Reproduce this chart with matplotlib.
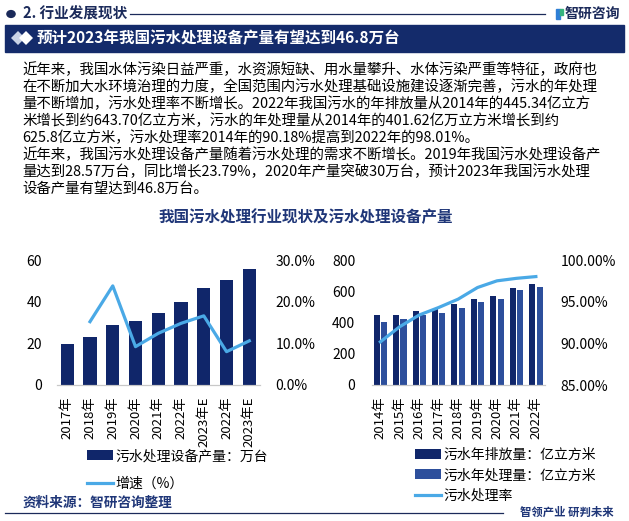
import matplotlib
matplotlib.use('Agg')
import matplotlib.pyplot as plt
from matplotlib.patches import Rectangle, Circle
from matplotlib.lines import Line2D

plt.rcParams['font.family'] = ['Noto Sans CJK SC', 'DejaVu Sans']

# 左图：污水处理设备产量
years_a = ['2017年', '2018年', '2019年', '2020年', '2021年', '2022年', '2023年E', '2022年', '2023年E']
output_a = [19.6, 23.08, 28.57, 30.9, 34.6, 40.0, 46.8, 50.5, 55.8]
growth_a = [None, 15.2, 23.79, 9.2, 12.4, 14.8, 16.6, 8.0, 10.6]

# 右图：污水排放/处理
years_b = ['2014年', '2015年', '2016年', '2017年', '2018年', '2019年', '2020年', '2021年', '2022年']
discharge = [445.34, 447.0, 472.0, 484.0, 518.0, 549.0, 568.0, 620.0, 643.70]
treated = [401.62, 420.0, 445.0, 459.0, 493.0, 530.0, 551.0, 609.0, 625.8]
rate = [90.18, 92.0, 93.4, 94.3, 95.3, 96.7, 97.5, 97.8, 98.01]

para = [
    '近年来，我国水体污染日益严重，水资源短缺、用水量攀升、水体污染严重等特征，政府也',
    '在不断加大水环境治理的力度，全国范围内污水处理基础设施建设逐渐完善，污水的年处理',
    '量不断增加，污水处理率不断增长。2022年我国污水的年排放量从2014年的445.34亿立方',
    '米增长到约643.70亿立方米，污水的年处理量从2014年的401.62亿万立方米增长到约',
    '625.8亿立方米，污水处理率2014年的90.18%提高到2022年的98.01%。',
    '近年来，我国污水处理设备产量随着污水处理的需求不断增长。2019年我国污水处理设备产',
    '量达到28.57万台，同比增长23.79%，2020年产量突破30万台，预计2023年我国污水处理',
    '设备产量有望达到46.8万台。',
]

NAVY = '#10266a'
MID = '#2d4f9c'
LIGHT = '#4aa9e6'
HEAD = '#1b2a5a'

W, H = 629, 521
fig = plt.figure(figsize=(W / 100, H / 100), dpi=100)


def fx(x):
    return x / W


def fy(y):
    return 1 - y / H


def box(x0, y0, x1, y1):
    return [fx(x0), fy(y1), fx(x1) - fx(x0), fy(y0) - fy(y1)]


# 顶部标题栏
fig.patches.append(Circle((fx(11), fy(14)), 0.0065, transform=fig.transFigure, color=HEAD))
fig.text(fx(23), fy(14), '2. 行业发展现状', fontsize=10.5, fontweight='bold', color=HEAD, va='center')
fig.add_artist(Line2D([fx(130), fx(545)], [fy(14), fy(14)], color=HEAD, lw=0.9))
fig.patches.append(Rectangle((fx(556), fy(19)), fx(4), fy(9) - fy(19), transform=fig.transFigure, color='#2f7fd6'))
fig.patches.append(Rectangle((fx(560), fy(15)), fx(3), fy(9) - fy(15), transform=fig.transFigure, color='#36b37e'))
fig.text(fx(565), fy(14), '智研咨询', fontsize=10, fontweight='bold', color=HEAD, va='center')

fig.patches.append(Rectangle((fx(5), fy(52)), fx(619), fy(25) - fy(52), transform=fig.transFigure, color='#142b6b'))
fig.add_artist(Line2D([fx(18)], [fy(38.5)], marker='D', ms=7.5, color='#c9d2e6', mew=0))
fig.add_artist(Line2D([fx(26)], [fy(38.5)], marker='D', ms=7.5, color='white', mew=0))
fig.text(fx(37), fy(38.5), '预计2023年我国污水处理设备产量有望达到46.8万台', fontsize=11.2,
         fontweight='bold', color='white', va='center')

for i, line in enumerate(para):
    fig.text(fx(22), fy(70 + i * 16.9), line, fontsize=10.4, color='black', va='center')

fig.text(fx(306), fy(217), '我国污水处理行业现状及污水处理设备产量', fontsize=11.2,
         fontweight='bold', color='#1f3678', ha='center', va='center')

# 左图
ax1 = fig.add_axes(box(57, 260, 260, 385))
xa = list(range(len(years_a)))
bars_a = ax1.bar(xa, output_a, width=0.585, color=NAVY, label='污水处理设备产量：万台')
ax1.set_xlim(-0.45, 8.47)
ax1.set_ylim(0, 60)
ax1.set_yticks([0, 20, 40, 60])
ax1.set_xticks(xa)
ax1.set_xticklabels(years_a, rotation=90, fontsize=9.5)
ax1b = ax1.twinx()
gx = [x for x, g in zip(xa, growth_a) if g is not None]
gy = [g for g in growth_a if g is not None]
line_a, = ax1b.plot(gx, gy, color=LIGHT, lw=2.3, label='增速（%）')
ax1b.set_ylim(0, 30)
ax1b.set_yticks([0, 10, 20, 30])
ax1b.set_yticklabels(['0.0%', '10.0%', '20.0%', '30.0%'])

# 右图
ax2 = fig.add_axes(box(372, 260, 545, 385))
xb = list(range(len(years_b)))
bars_d = ax2.bar([x - 0.19 for x in xb], discharge, width=0.31, color=NAVY, label='污水年排放量：亿立方米')
bars_t = ax2.bar([x + 0.19 for x in xb], treated, width=0.31, color=MID, label='污水年处理量：亿立方米')
ax2.set_xlim(-0.43, 8.47)
ax2.set_ylim(0, 800)
ax2.set_yticks([0, 200, 400, 600, 800])
ax2.set_xticks(xb)
ax2.set_xticklabels(years_b, rotation=90, fontsize=9.5)
ax2b = ax2.twinx()
line_b, = ax2b.plot(xb, rate, color=LIGHT, lw=2.3, label='污水处理率')
ax2b.set_ylim(85, 100)
ax2b.set_yticks([85, 90, 95, 100])
ax2b.set_yticklabels(['85.00%', '90.00%', '95.00%', '100.00%'])

for ax in (ax1, ax1b, ax2, ax2b):
    for s in ('top', 'left', 'right'):
        ax.spines[s].set_visible(False)
    ax.spines['bottom'].set_color('#c8c8c8')
    ax.tick_params(length=0, labelsize=10)
    ax.set_facecolor('none')
for ax in (ax1, ax2):
    ax.tick_params(axis='x', labelsize=9.5, pad=8)
ax1.tick_params(axis='y', pad=11)
ax2.tick_params(axis='y', pad=12)
ax1b.tick_params(axis='y', pad=11)
ax2b.tick_params(axis='y', pad=11)

ax1.legend([bars_a, line_a], ['污水处理设备产量：万台', '增速（%）'], loc='upper left',
           bbox_to_anchor=(fx(80), fy(442)), bbox_transform=fig.transFigure, frameon=False,
           fontsize=10, borderpad=0, handlelength=1.9, handleheight=0.7, handletextpad=0.15,
           labelspacing=1.0)
ax2.legend([bars_d, bars_t, line_b], ['污水年排放量：亿立方米', '污水年处理量：亿立方米', '污水处理率'],
           loc='upper left', bbox_to_anchor=(fx(408), fy(441)), bbox_transform=fig.transFigure,
           frameon=False, fontsize=10, borderpad=0, handlelength=1.9, handleheight=0.7,
           handletextpad=0.15, labelspacing=0.45)

# 底部
fig.text(fx(23), fy(503), '资料来源：智研咨询整理', fontsize=9.8, fontweight='bold', color='#1f3678', va='center')
fig.add_artist(Line2D([fx(5), fx(503)], [fy(513), fy(513)], color=HEAD, lw=0.9))
fig.text(fx(520), fy(512), '智领产业 研判未来', fontsize=8.2, fontweight='bold', color='#1f3678', va='center')

fig.savefig('out.png', dpi=100)
